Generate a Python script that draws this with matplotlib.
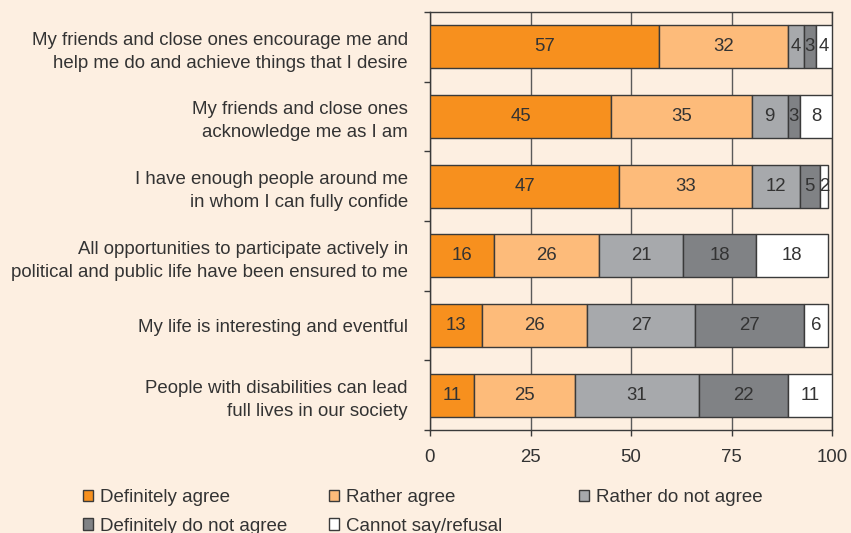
import numpy as np
import matplotlib
matplotlib.use("Agg")
import matplotlib.pyplot as plt
from matplotlib.patches import Patch

plt.rcParams['font.family'] = ['Liberation Sans', 'DejaVu Sans']

statements = [
    "My friends and close ones encourage me and\nhelp me do and achieve things that I desire",
    "My friends and close ones\nacknowledge me as I am",
    "I have enough people around me\nin whom I can fully confide",
    "All opportunities to participate actively in\npolitical and public life have been ensured to me",
    "My life is interesting and eventful",
    "People with disabilities can lead\nfull lives in our society",
]
answers = ["Definitely agree", "Rather agree", "Rather do not agree",
           "Definitely do not agree", "Cannot say/refusal"]

definitely_agree = [57, 45, 47, 16, 13, 11]
rather_agree = [32, 35, 33, 26, 26, 25]
rather_not = [4, 9, 12, 21, 27, 31]
definitely_not = [3, 3, 5, 18, 27, 22]
cannot_say = [4, 8, 2, 18, 6, 11]

series = [definitely_agree, rather_agree, rather_not, definitely_not, cannot_say]
colors = ["#F7901E", "#FDBB7A", "#A7A9AC", "#808285", "#FFFFFF"]
bg = "#FDEFE1"
edge = "#3a3a3a"
txt = "#333333"
fs = 13.4

fig = plt.figure(figsize=(8.51, 5.33), dpi=100, facecolor=bg)
ax = fig.add_axes([430 / 851, 1 - 430 / 533, 402 / 851, 418 / 533])
ax.set_facecolor(bg)

y = np.arange(len(statements))
left = np.zeros(len(statements))
for vals, c in zip(series, colors):
    vals = np.array(vals)
    ax.barh(y, vals, left=left, height=0.62, color=c, edgecolor=edge,
            linewidth=1, zorder=3)
    for yi, l, v in zip(y, left, vals):
        ax.text(l + v / 2, yi, str(v), ha="center", va="center",
                fontsize=fs, color=txt, zorder=4)
    left += vals

ax.set_xlim(0, 100)
ax.set_ylim(len(statements) - 0.5, -0.5)
ax.set_xticks([0, 25, 50, 75, 100])
ax.xaxis.grid(True, color="#5a5a5a", linewidth=1, zorder=0)
ax.set_axisbelow(True)

ax.set_yticks(y)
ax.set_yticklabels(statements, ha="right", multialignment="right",
                   linespacing=1.45)
ax.set_yticks(np.arange(len(statements) + 1) - 0.5, minor=True)
ax.tick_params(axis="y", which="major", length=0, pad=16,
               labelsize=fs, labelcolor=txt)
ax.tick_params(axis="y", which="minor", length=4, width=1, color=edge)
ax.tick_params(axis="x", length=4, width=1, color=edge, pad=10,
               labelsize=fs, labelcolor=txt)
for s in ax.spines.values():
    s.set_color(edge)
    s.set_linewidth(1)

# legend laid out as three columns
handles = [Patch(facecolor=c, edgecolor=edge, linewidth=1) for c in colors]
cols = [(83, [0, 3]), (329, [1, 4]), (579, [2])]
for x0, idx in cols:
    leg = fig.legend([handles[i] for i in idx], [answers[i] for i in idx],
                     loc="upper left", bbox_to_anchor=(x0 / 851, 1 - 489 / 533),
                     frameon=False, fontsize=13.5, handlelength=0.55,
                     handleheight=0.55, handletextpad=0.35, labelspacing=0.62,
                     borderpad=0, borderaxespad=0)
    for t in leg.get_texts():
        t.set_color(txt)

fig.savefig("out.png", dpi=100, facecolor=bg)
